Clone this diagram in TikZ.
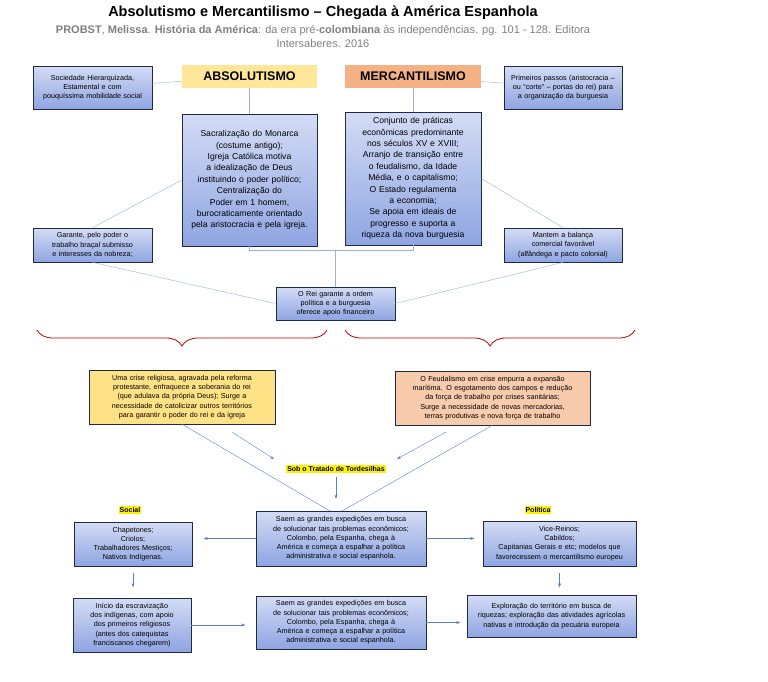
\documentclass[tikz,border=0pt]{standalone}
\usepackage{fontspec}
\setmainfont{Liberation Sans}
\usepackage{xcolor}
\usetikzlibrary{arrows.meta, positioning, decorations.pathreplacing}
\definecolor{boxtop}{HTML}{D3DCF5}
\definecolor{boxbot}{HTML}{8FA5E2}
\definecolor{boxline}{HTML}{1F2A44}
\definecolor{linkline}{HTML}{9BB0DC}
\definecolor{arrowblue}{HTML}{5B7FC7}
\definecolor{absyellow}{HTML}{FFE699}
\definecolor{mercorange}{HTML}{F4B183}
\definecolor{crisisorange}{HTML}{F8CBAD}
\definecolor{crisisyellow}{HTML}{FFE285}
\definecolor{bracered}{HTML}{C00000}
\hyphenpenalty=10000
\exhyphenpenalty=10000

\begin{document}
\begin{tikzpicture}[x=1pt, y=-1pt,
        bluebox/.style={rectangle, draw=boxline, semithick, top color=boxtop, bottom color=boxbot, align=center, inner sep=1pt, font=\fontsize{7.2}{9.2}\selectfont},
        bigbox/.style={bluebox, font=\fontsize{8.6}{11.4}\selectfont},
        heading/.style={rectangle, align=center, font=\fontsize{12.5}{14}\selectfont\bfseries},
        crisis/.style={rectangle, draw=boxline, align=center, inner sep=1pt, font=\fontsize{7.2}{9.2}\selectfont},
        tag/.style={fill=yellow, inner sep=1pt, font=\fontsize{7}{8}\selectfont\bfseries},
        link/.style={linkline, thin},
        arrow/.style={arrowblue, thin, -{Stealth[length=4pt, width=3pt]}},
        brace/.style={bracered, thick, decorate, decoration={brace, amplitude=16pt, mirror}}
    ]
    \useasboundingbox (0,0) rectangle (768,681);

    % title
    \node (title) at (323,13) {\fontsize{14.5}{16}\selectfont\bfseries Absolutismo e Mercantilismo -- Chegada à América Espanhola};
    \node (source) [text=gray, align=center, font=\fontsize{11}{14}\selectfont] at (323,36) {\textbf{PROBST}, \textbf{Melissa}. \textbf{História da América}: da era pré-\textbf{colombiana} às independências. pg. 101 - 128. Editora\\ Intersaberes. 2016};

    % upper part
    \node (absol) [heading, fill=absyellow, minimum width=135pt, minimum height=23pt] at (249.5,76.5) {ABSOLUTISMO};
    \node (merc) [heading, fill=mercorange, minimum width=136pt, minimum height=23pt] at (413,76.5) {MERCANTILISMO};
    \node (society) [bluebox, minimum width=119pt, minimum height=43pt, text width=100pt] at (92.5,87.5) {Sociedade Hierarquizada, Estamental e com pouquíssima mobilidade social};
    \node (steps) [bluebox, minimum width=118pt, minimum height=43pt, text width=104pt] at (563,87.5) {Primeiros passos (aristocracia -- ou ``corte'' -- portas do rei) para a organização da burguesia};
    \node (sacral) [bigbox, minimum width=135pt, minimum height=132pt, text width=124pt] at (249.5,180) {Sacralização do Monarca (costume antigo);\\ Igreja Católica motiva a idealização de Deus instituindo o poder político;\\ Centralização do Poder em 1 homem, burocraticamente orientado pela aristocracia e pela igreja.};
    \node (practices) [bigbox, minimum width=136pt, minimum height=133pt, text width=132pt] at (413,178.5) {Conjunto de práticas econômicas predominante nos séculos XV e XVIII;\\ Arranjo de transição entre o feudalismo, da Idade Média, e o capitalismo;\\ O Estado regulamenta a economia;\\ Se apoia em ideais de progresso e suporta a riqueza da nova burguesia};
    \node (labour) [bluebox, minimum width=119pt, minimum height=34pt, text width=100pt] at (92.5,245) {Garante, pelo poder o trabalho braçal submisso e interesses da nobreza;};
    \node (balance) [bluebox, minimum width=118pt, minimum height=34pt, text width=104pt] at (563,245) {Mantem a balança comercial favorável (alfândega e pacto colonial)};
    \node (king) [bluebox, minimum width=119pt, minimum height=33pt, text width=100pt] at (335.5,303.5) {O Rei garante a ordem política e a burguesia oferece apoio financeiro};

    \draw [link] (society) -- (absol);
    \draw [link] (merc) -- (steps);
    \draw [link] (absol) -- (sacral);
    \draw [link] (merc) -- (practices);
    \draw [link] (sacral.south) -- ++(0,4) -| (practices.south);
    \draw [link] (335.5,250) -- (king.north);
    \draw [link] (sacral.west) -- (labour.north);
    \draw [link] (practices.east) -- (balance.north);
    \draw [link] (labour.south) -- (king.west);
    \draw [link] (balance.south) -- (king.east);

    % braces
    \draw [brace] (37,330) -- (327,330);
    \draw [brace] (345,330) -- (635,330);

    % crises
    \node (religious) [crisis, fill=crisisyellow, minimum width=186pt, minimum height=54pt, text width=170pt] at (182,397) {Uma crise religiosa, agravada pela reforma protestante, enfraquece a soberania do rei (que adulava da própria Deus); Surge a necessidade de catolicizar outros territórios para garantir o poder do rei e da igreja};
    \node (feudal) [crisis, fill=crisisorange, minimum width=195pt, minimum height=54pt, text width=180pt] at (492.5,398) {O Feudalismo em crise empurra a expansão marítima. O esgotamento dos campos e redução da força de trabalho por crises sanitárias; Surge a necessidade de novas mercadorias, terras produtivas e nova força de trabalho};
    \node (treaty) [tag] at (336,469) {Sob o Tratado de Tordesilhas};

    % lower part
    \node (voyages) [bluebox, minimum width=170pt, minimum height=55pt, text width=160pt] at (341,538.5) {Saem as grandes expedições em busca de solucionar tais problemas econômicos;\\ Colombo, pela Espanha, chega à América e começa a espalhar a política administrativa e social espanhola.};
    \node (social) [tag] at (130,510) {Social};
    \node (politics) [tag] at (538,510) {Política};
    \node (classes) [bluebox, minimum width=118pt, minimum height=44pt, text width=112pt] at (133,544) {Chapetones;\\ Criolos;\\ Trabalhadores Mestiços;\\ Nativos Indígenas.};
    \node (viceroy) [bluebox, minimum width=153pt, minimum height=45pt, text width=148pt] at (559.5,543.5) {Vice-Reinos;\\ Cabildos;\\ Capitanias Gerais e etc; modelos que favorecessem o mercantilismo europeu};
    \node (slavery) [bluebox, minimum width=118pt, minimum height=54pt, text width=104pt] at (132,625) {Início da escravização dos indígenas, com apoio dos primeiros religiosos (antes dos catequistas franciscanos chegarem)};
    \node (voyages2) [bluebox, minimum width=170pt, minimum height=53pt, text width=160pt] at (341,622.5) {Saem as grandes expedições em busca de solucionar tais problemas econômicos;\\ Colombo, pela Espanha, chega à América e começa a espalhar a política administrativa e social espanhola.};
    \node (explore) [bluebox, minimum width=169pt, minimum height=42pt, text width=150pt] at (551.5,616) {Exploração do território em busca de riquezas; exploração das atividades agrícolas nativas e introdução da pecuária europeia};

    \coordinate (relstart) at (232,432);
    \coordinate (feustart) at (446,432);
    \draw [arrow] (relstart) -- (274,459);
    \draw [arrow] (feustart) -- (397,459);
    \draw [link, arrowblue] (religious.south) -- (330,511);
    \draw [link, arrowblue] (feudal.south) -- (342,511);
    \draw [arrow] (treaty.south) ++(0,4) -- ++(0,22);
    \draw [arrow] (voyages.west) -- ++(-52,0);
    \draw [arrow] (voyages.east) -- ++(48,0);
    \draw [arrow] (classes.south) ++(0,7) -- ++(0,14);
    \draw [arrow] (viceroy.south) ++(0,7) -- ++(0,14);
    \draw [arrow] (slavery.east) -- ++(54,0);
    \draw [arrow] (voyages2.east) -- ++(34,0);
\end{tikzpicture}
\end{document}
